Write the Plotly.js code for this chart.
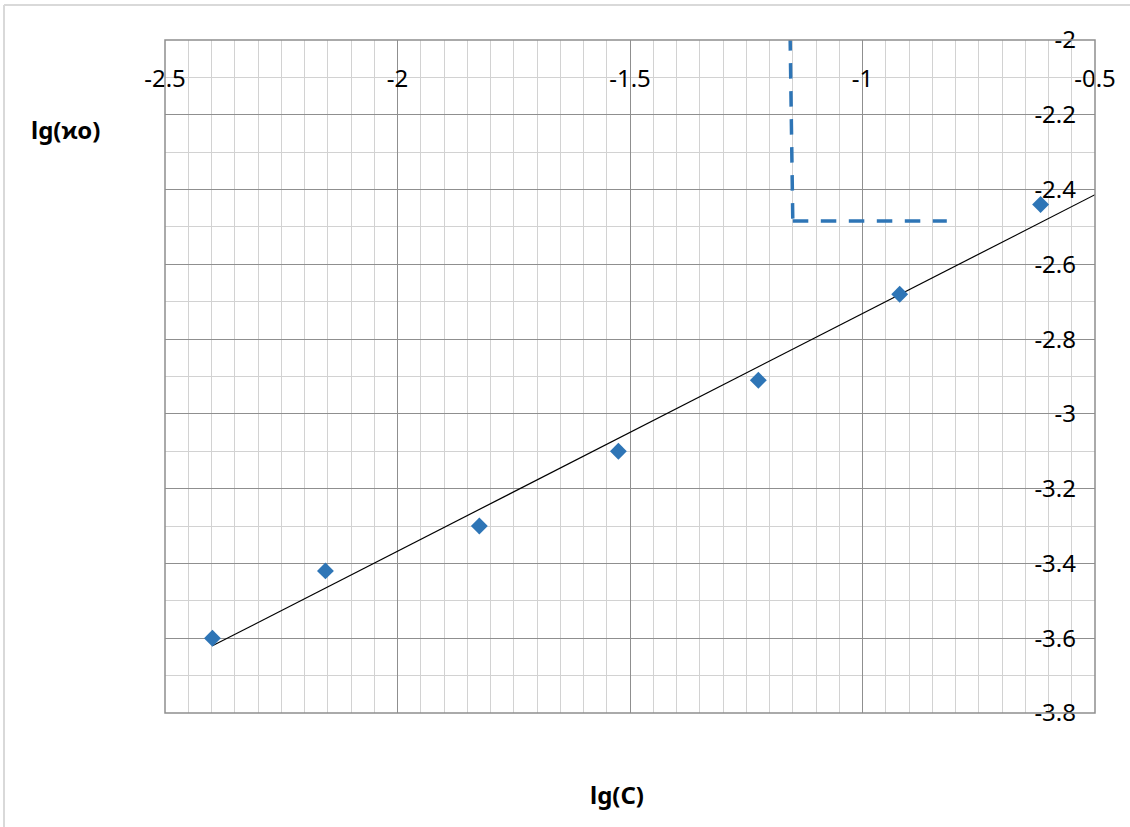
<!DOCTYPE html>
<html>
<head>
<meta charset="utf-8">
<script src="https://cdn.plot.ly/plotly-3.0.1.min.js"></script>
<style>html,body{margin:0;padding:0;background:#fff;}#chart{width:1130px;height:827px;}</style>
</head>
<body>
<div id="chart"></div>
<script>
// Data
const lgC   = [-2.398, -2.155, -1.824, -1.525, -1.224, -0.920, -0.617];
const lgKo  = [-3.60, -3.42, -3.30, -3.10, -2.91, -2.68, -2.44];
const trendRange = [-2.398, -0.5];
// dashed guide: vertical segment, then horizontal segment
const guideX = [-1.1557, -1.1499, null, -1.1499, -0.8187];
const guideY = [-1.987, -2.484, null, -2.484, -2.484];
const xTickVals = [-2.5, -2, -1.5, -1, -0.5];
const xTickText = ['-2.5', '-2', '-1.5', '-1', '-0.5'];
const yTickVals = [-3.8, -3.6, -3.4, -3.2, -3.0, -2.8, -2.6, -2.4, -2.2, -2.0];
const yTickText = ['-3.8', '-3.6', '-3.4', '-3.2', '-3', '-2.8', '-2.6', '-2.4', '-2.2', '-2'];
const xTitle = 'lg(C)';
const yTitle = 'lg(ϰo)';

// linear least-squares trendline
const n = lgC.length;
const mx = lgC.reduce((a, b) => a + b, 0) / n;
const my = lgKo.reduce((a, b) => a + b, 0) / n;
let sxy = 0, sxx = 0;
for (let i = 0; i < n; i++) { sxy += (lgC[i] - mx) * (lgKo[i] - my); sxx += (lgC[i] - mx) ** 2; }
const slope = sxy / sxx, icpt = my - slope * mx;
const trendY = trendRange.map(x => icpt + slope * x);

const blue = '#2e75b6';
const major = '#8f8f8f';
const minor = '#d2d2d2';
const font = 'Noto Sans, Open Sans, sans-serif';

const traces = [
  {x: guideX, y: guideY, type: 'scatter', mode: 'lines', connectgaps: false,
   line: {color: blue, width: 3.5, dash: '15.5px,12.5px'}, hoverinfo: 'skip'},
  {x: trendRange, y: trendY, type: 'scatter', mode: 'lines',
   line: {color: '#000000', width: 1.2}, hoverinfo: 'skip'},
  {x: lgC, y: lgKo, type: 'scatter', mode: 'markers',
   marker: {symbol: 'diamond', size: 13, color: blue}}
];

const layout = {
  width: 1130, height: 827,
  margin: {l: 165, r: 35, t: 40, b: 114},
  paper_bgcolor: '#ffffff', plot_bgcolor: '#ffffff',
  showlegend: false,
  font: {family: font, size: 24, color: '#000000'},
  xaxis: {
    range: [-2.5, -0.5], tickmode: 'array', tickvals: xTickVals, ticktext: xTickText,
    showgrid: true, gridcolor: major, gridwidth: 1, zeroline: false, showline: false, ticks: '',
    minor: {dtick: 0.05, tick0: -2.5, showgrid: true, gridcolor: minor, gridwidth: 1},
    anchor: 'free', position: 0.968, side: 'bottom',
    tickfont: {family: font, size: 24, color: '#000'}
  },
  yaxis: {
    range: [-3.8, -2], tickmode: 'array', tickvals: yTickVals, ticktext: yTickText,
    showgrid: true, gridcolor: major, gridwidth: 1, zeroline: false, showline: false, ticks: '',
    minor: {dtick: 0.1, tick0: -3.8, showgrid: true, gridcolor: minor, gridwidth: 1},
    anchor: 'free', position: 0.9796, side: 'left',
    tickfont: {family: font, size: 24, color: '#000'}
  },
  shapes: [
    {type: 'rect', xref: 'paper', yref: 'paper', x0: 0, x1: 1, y0: 0, y1: 1,
     line: {color: major, width: 1.5}, layer: 'above'},
    {type: 'line', xref: 'paper', yref: 'paper', x0: -0.1731, x1: -0.1731, y0: -0.2, y1: 1.052,
     line: {color: '#d9d9d9', width: 2}},
    {type: 'line', xref: 'paper', yref: 'paper', x0: -0.1731, x1: 1.04, y0: 1.052, y1: 1.052,
     line: {color: '#d9d9d9', width: 2}}
  ],
  annotations: [
    {text: '<b>' + xTitle + '</b>', xref: 'paper', yref: 'paper', x: 0.486, y: -0.1218,
     showarrow: false, xanchor: 'center', yanchor: 'middle', font: {family: font, size: 24, color: '#000'}},
    {text: '<b>' + yTitle + '</b>', xref: 'paper', yref: 'paper', x: -0.1075, y: 0.8663,
     showarrow: false, xanchor: 'center', yanchor: 'middle', font: {family: font, size: 24, color: '#000'}}
  ]
};

Plotly.newPlot('chart', traces, layout, {displayModeBar: false, staticPlot: true});
</script>
</body>
</html>
